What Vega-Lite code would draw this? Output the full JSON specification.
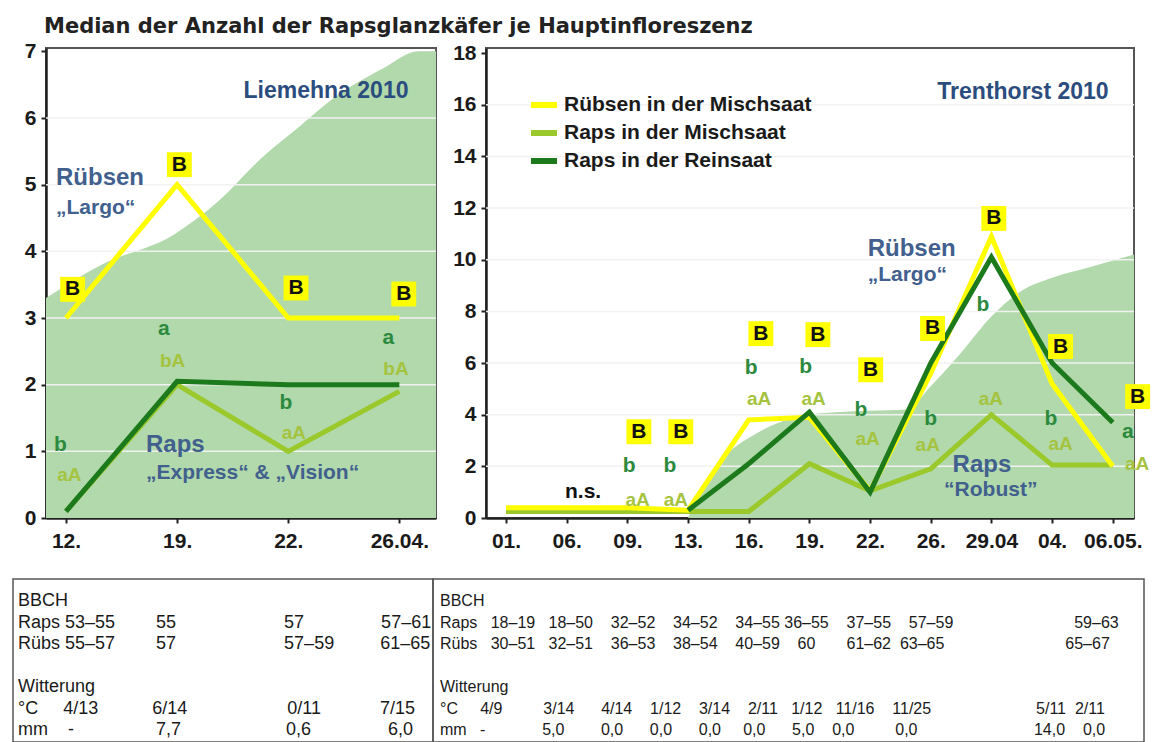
{
  "$schema": "https://vega.github.io/schema/vega-lite/v6.json",
  "padding": {"left": 12, "top": 16, "right": 0, "bottom": 0},
  "background": "white",
  "title": {"text": "Median der Anzahl der Rapsglanzkäfer je Hauptinfloreszenz", "anchor": "start", "frame": "group", "dx": 31, "offset": -15, "baseline": "alphabetic", "font": "DejaVu Sans", "fontSize": 21, "fontWeight": "bold", "color": "#222222"},
  "config": {
    "font": "Liberation Sans",
    "view": {"stroke": "#555555", "strokeWidth": 2},
    "axis": {"labelFont": "Liberation Sans", "labelFontSize": 21, "labelFontWeight": "bold", "labelColor": "#1a1a1a", "domainColor": "#222222", "domainWidth": 2.5, "tickColor": "#222222", "tickWidth": 2, "tickSize": 5, "grid": false, "title": null, "labelOverlap": false, "labelFlush": false}
  },
  "datasets": {
    "left_area": [
      {"t": -0.18, "v": 3.3}, {"t": 0.32, "v": 3.8}, {"t": 0.97, "v": 4.25}, {"t": 1.37, "v": 4.75},
      {"t": 1.76, "v": 5.4}, {"t": 2.12, "v": 5.9}, {"t": 2.41, "v": 6.3}, {"t": 2.86, "v": 6.75},
      {"t": 3.17, "v": 7.0}, {"t": 3.33, "v": 7.0}
    ],
    "left_grid": [{"g": 1}, {"g": 2}, {"g": 3}, {"g": 4}, {"g": 5}, {"g": 6}],
    "left_lines": [
      {"series": "Raps in der Mischsaat", "t": 0, "v": 0.1},
      {"series": "Raps in der Mischsaat", "t": 1, "v": 2.0},
      {"series": "Raps in der Mischsaat", "t": 2, "v": 1.0},
      {"series": "Raps in der Mischsaat", "t": 3, "v": 1.9},
      {"series": "Rübsen in der Mischsaat", "t": 0, "v": 3.0},
      {"series": "Rübsen in der Mischsaat", "t": 1, "v": 5.0},
      {"series": "Rübsen in der Mischsaat", "t": 2, "v": 3.0},
      {"series": "Rübsen in der Mischsaat", "t": 3, "v": 3.0},
      {"series": "Raps in der Reinsaat", "t": 0, "v": 0.1},
      {"series": "Raps in der Reinsaat", "t": 1, "v": 2.05},
      {"series": "Raps in der Reinsaat", "t": 2, "v": 2.0},
      {"series": "Raps in der Reinsaat", "t": 3, "v": 2.0}
    ],
    "left_marks": [
      {"kind": "B", "t": 0.06, "v": 3.43, "label": "B"},
      {"kind": "B", "t": 1.02, "v": 5.3, "label": "B"},
      {"kind": "B", "t": 2.07, "v": 3.45, "label": "B"},
      {"kind": "B", "t": 3.04, "v": 3.36, "label": "B"},
      {"kind": "rein", "t": -0.05, "v": 1.09, "label": "b"},
      {"kind": "rein", "t": 0.88, "v": 2.84, "label": "a"},
      {"kind": "rein", "t": 1.98, "v": 1.72, "label": "b"},
      {"kind": "rein", "t": 2.9, "v": 2.7, "label": "a"},
      {"kind": "misch", "t": 0.03, "v": 0.64, "label": "aA"},
      {"kind": "misch", "t": 0.96, "v": 2.36, "label": "bA"},
      {"kind": "misch", "t": 2.05, "v": 1.28, "label": "aA"},
      {"kind": "misch", "t": 2.97, "v": 2.24, "label": "bA"}
    ],
    "left_annot": [
      {"role": "site", "t": 2.34, "v": 6.4, "text": "Liemehna 2010"},
      {"role": "name", "t": -0.09, "v": 5.1, "text": "Rübsen"},
      {"role": "variety", "t": -0.09, "v": 4.65, "text": "„Largo“"},
      {"role": "name", "t": 0.72, "v": 1.09, "text": "Raps"},
      {"role": "variety", "t": 0.72, "v": 0.67, "text": "„Express“ & „Vision“"}
    ],
    "right_area": [
      {"t": 3.0, "v": 0}, {"t": 3.15, "v": 0.8}, {"t": 3.4, "v": 1.8}, {"t": 3.7, "v": 2.6},
      {"t": 4.0, "v": 3.1}, {"t": 4.5, "v": 3.7}, {"t": 5.0, "v": 4.0}, {"t": 5.5, "v": 4.1},
      {"t": 6.0, "v": 4.15}, {"t": 6.6, "v": 4.2}, {"t": 7.0, "v": 5.1}, {"t": 7.5, "v": 6.4},
      {"t": 8.0, "v": 7.8}, {"t": 8.5, "v": 8.8}, {"t": 9.0, "v": 9.3}, {"t": 9.6, "v": 9.7},
      {"t": 10.35, "v": 10.2}
    ],
    "right_grid": [{"g": 2}, {"g": 4}, {"g": 6}, {"g": 8}, {"g": 10}, {"g": 12}, {"g": 14}, {"g": 16}],
    "right_lines": [
      {"series": "Raps in der Mischsaat", "t": 0, "v": 0.25},
      {"series": "Raps in der Mischsaat", "t": 1, "v": 0.25},
      {"series": "Raps in der Mischsaat", "t": 2, "v": 0.25},
      {"series": "Raps in der Mischsaat", "t": 3, "v": 0.25},
      {"series": "Raps in der Mischsaat", "t": 4, "v": 0.25},
      {"series": "Raps in der Mischsaat", "t": 5, "v": 2.1},
      {"series": "Raps in der Mischsaat", "t": 6, "v": 1.05},
      {"series": "Raps in der Mischsaat", "t": 7, "v": 1.9},
      {"series": "Raps in der Mischsaat", "t": 8, "v": 4.0},
      {"series": "Raps in der Mischsaat", "t": 9, "v": 2.05},
      {"series": "Raps in der Mischsaat", "t": 10, "v": 2.05},
      {"series": "Rübsen in der Mischsaat", "t": 0, "v": 0.4},
      {"series": "Rübsen in der Mischsaat", "t": 1, "v": 0.4},
      {"series": "Rübsen in der Mischsaat", "t": 2, "v": 0.4},
      {"series": "Rübsen in der Mischsaat", "t": 3, "v": 0.3},
      {"series": "Rübsen in der Mischsaat", "t": 4, "v": 3.8},
      {"series": "Rübsen in der Mischsaat", "t": 5, "v": 3.9},
      {"series": "Rübsen in der Mischsaat", "t": 6, "v": 1.05},
      {"series": "Rübsen in der Mischsaat", "t": 7, "v": 5.6},
      {"series": "Rübsen in der Mischsaat", "t": 8, "v": 10.9},
      {"series": "Rübsen in der Mischsaat", "t": 9, "v": 5.2},
      {"series": "Rübsen in der Mischsaat", "t": 10, "v": 2.0},
      {"series": "Raps in der Reinsaat", "t": 3, "v": 0.3},
      {"series": "Raps in der Reinsaat", "t": 4, "v": 2.1},
      {"series": "Raps in der Reinsaat", "t": 5, "v": 4.1},
      {"series": "Raps in der Reinsaat", "t": 6, "v": 1.0},
      {"series": "Raps in der Reinsaat", "t": 7, "v": 6.0},
      {"series": "Raps in der Reinsaat", "t": 8, "v": 10.1},
      {"series": "Raps in der Reinsaat", "t": 9, "v": 6.0},
      {"series": "Raps in der Reinsaat", "t": 10, "v": 3.7}
    ],
    "right_marks": [
      {"kind": "B", "t": 2.19, "v": 3.34, "label": "B"},
      {"kind": "B", "t": 2.88, "v": 3.34, "label": "B"},
      {"kind": "B", "t": 4.2, "v": 7.14, "label": "B"},
      {"kind": "B", "t": 5.14, "v": 7.1, "label": "B"},
      {"kind": "B", "t": 6.01, "v": 5.74, "label": "B"},
      {"kind": "B", "t": 7.03, "v": 7.34, "label": "B"},
      {"kind": "B", "t": 8.04, "v": 11.6, "label": "B"},
      {"kind": "B", "t": 9.14, "v": 6.64, "label": "B"},
      {"kind": "B", "t": 10.41, "v": 4.7, "label": "B"},
      {"kind": "rein", "t": 2.03, "v": 2.0, "label": "b"},
      {"kind": "rein", "t": 2.7, "v": 2.0, "label": "b"},
      {"kind": "rein", "t": 4.04, "v": 5.8, "label": "b"},
      {"kind": "rein", "t": 4.94, "v": 5.86, "label": "b"},
      {"kind": "rein", "t": 5.85, "v": 4.19, "label": "b"},
      {"kind": "rein", "t": 7.0, "v": 3.84, "label": "b"},
      {"kind": "rein", "t": 7.86, "v": 8.26, "label": "b"},
      {"kind": "rein", "t": 8.98, "v": 3.84, "label": "b"},
      {"kind": "rein", "t": 10.25, "v": 3.34, "label": "a"},
      {"kind": "misch", "t": 2.17, "v": 0.7, "label": "aA"},
      {"kind": "misch", "t": 2.8, "v": 0.7, "label": "aA"},
      {"kind": "misch", "t": 4.17, "v": 4.6, "label": "aA"},
      {"kind": "misch", "t": 5.07, "v": 4.62, "label": "aA"},
      {"kind": "misch", "t": 5.96, "v": 3.07, "label": "aA"},
      {"kind": "misch", "t": 6.95, "v": 2.83, "label": "aA"},
      {"kind": "misch", "t": 7.99, "v": 4.62, "label": "aA"},
      {"kind": "misch", "t": 9.14, "v": 2.87, "label": "aA"},
      {"kind": "misch", "t": 10.4, "v": 2.1, "label": "aA"},
      {"kind": "ns", "t": 1.27, "v": 1.0, "label": "n.s."}
    ],
    "right_annot": [
      {"role": "site", "t": 8.52, "v": 16.5, "text": "Trenthorst 2010"},
      {"role": "name", "t": 5.96, "v": 10.4, "text": "Rübsen"},
      {"role": "variety", "t": 5.96, "v": 9.42, "text": "„Largo“"},
      {"role": "name", "t": 7.36, "v": 2.05, "text": "Raps"},
      {"role": "variety", "t": 7.22, "v": 1.09, "text": "“Robust”"}
    ],
    "table_left": [
      {"row": "h1", "text": "BBCH"},
      {"row": "r1", "text": "Raps\u00a053–55\u2003\u2003\u00a055\u2003\u2003\u2003\u2003\u2003\u200357\u2003\u2003\u2003\u2003\u00a057–61"},
      {"row": "r2", "text": "Rübs\u00a055–57\u2003\u2003\u00a057\u2003\u2003\u2003\u2003\u2003\u200357–59\u2003\u2003\u00a0\u00a061–65"},
      {"row": "h2", "text": "Witterung"},
      {"row": "r3", "text": "°C\u00a0\u00a0\u00a0\u00a0\u00a04/13\u2003\u2003\u20036/14\u2003\u2003\u2003\u2003\u2003\u00a0\u00a00/11\u2003\u2003\u2003\u00a07/15"},
      {"row": "r4", "text": "mm\u00a0\u00a0\u00a0\u00a0-\u2003\u2003\u2003\u2003\u00a0\u00a07,7\u2003\u2003\u2003\u2003\u2003\u00a0\u00a0\u00a00,6\u2003\u2003\u2003\u2003\u00a06,0"}
    ],
    "table_right": [
      {"row": "h1", "text": "BBCH"},
      {"row": "r1", "text": "Raps\u00a0\u00a0\u00a018–19\u00a0\u00a0\u00a018–50\u00a0\u00a0\u00a0\u00a032–52\u00a0\u00a0\u00a0\u00a034–52\u00a0\u00a0\u00a0\u00a034–55\u00a036–55\u00a0\u00a0\u00a0\u00a037–55\u00a0\u00a0\u00a0\u00a057–59\u2003\u2003\u2003\u2003\u2003\u2003\u2003\u00a0\u00a059–63"},
      {"row": "r2", "text": "Rübs\u00a0\u00a0\u00a030–51\u00a0\u00a0\u00a032–51\u00a0\u00a0\u00a0\u00a036–53\u00a0\u00a0\u00a0\u00a038–54\u00a0\u00a0\u00a0\u00a040–59\u00a0\u00a0\u00a0\u00a060\u00a0\u00a0\u00a0\u00a0\u00a0\u00a0\u00a061–62\u00a0\u00a063–65\u2003\u2003\u2003\u2003\u2003\u2003\u2003\u00a0\u00a065–67"},
      {"row": "h2", "text": "Witterung"},
      {"row": "r3", "text": "°C\u00a0\u00a0\u00a0\u00a0\u00a04/9\u2003\u2003\u00a0\u00a03/14\u00a0\u00a0\u00a0\u00a0\u00a0\u00a04/14\u00a0\u00a0\u00a0\u00a01/12\u00a0\u00a0\u00a0\u00a03/14\u00a0\u00a0\u00a0\u00a02/11\u00a0\u00a0\u00a01/12\u00a0\u00a0\u00a011/16\u00a0\u00a0\u00a0\u00a011/25\u2003\u2003\u2003\u2003\u2003\u2003\u00a0\u00a05/11\u00a0\u00a02/11"},
      {"row": "r4", "text": "mm\u00a0\u00a0\u00a0-\u2003\u2003\u2003\u00a0\u00a05,0\u2003\u2003\u00a00,0\u00a0\u00a0\u00a0\u00a0\u00a0\u00a00,0\u00a0\u00a0\u00a0\u00a0\u00a0\u00a00,0\u00a0\u00a0\u00a0\u00a0\u00a00,0\u00a0\u00a0\u00a0\u00a0\u00a0\u00a05,0\u00a0\u00a0\u00a0\u00a00,0\u2003\u2003\u00a0\u00a00,0\u2003\u2003\u2003\u2003\u2003\u2003\u2003\u00a014,0\u00a0\u00a0\u00a0\u00a00,0"}
    ]
  },
  "bounds": "full",
  "spacing": 26,
  "vconcat": [
    {
      "bounds": "flush",
      "spacing": 32,
      "hconcat": [
        {"width": 1, "height": 470, "view": {"stroke": null}, "data": {"values": [{"s": 0}]}, "mark": {"type": "point", "opacity": 0, "size": 1}, "encoding": {}},
        {
          "bounds": "flush",
          "spacing": 50,
          "resolve": {"scale": {"stroke": "independent"}},
          "hconcat": [
            {
              "width": 390,
              "height": 470,
              "layer": [
                {
                  "data": {"name": "left_area"},
                  "mark": {"type": "area", "color": "#b1d9ab", "interpolate": "monotone"},
                  "encoding": {
                    "x": {"field": "t", "type": "quantitative", "scale": {"domain": [-0.18, 3.33], "nice": false, "zero": false}, "axis": {"values": [0, 1, 2, 3], "labelExpr": "['12.','19.','22.','26.04.'][datum.value]", "labelPadding": 7}},
                    "y": {"field": "v", "type": "quantitative", "scale": {"domain": [0, 7.05], "nice": false}, "axis": {"values": [0, 1, 2, 3, 4, 5, 6, 7], "format": "d", "labelPadding": 5}}
                  }
                },
                {
                  "data": {"name": "left_grid"},
                  "mark": {"type": "rule", "color": "#f2f2f2", "strokeWidth": 1.5},
                  "encoding": {"y": {"field": "g", "type": "quantitative"}}
                },
                {
                  "data": {"name": "left_lines"},
                  "mark": {"type": "line", "strokeWidth": 5},
                  "encoding": {
                    "x": {"field": "t", "type": "quantitative"},
                    "y": {"field": "v", "type": "quantitative"},
                    "stroke": {"field": "series", "type": "nominal", "scale": {"domain": ["Rübsen in der Mischsaat", "Raps in der Mischsaat", "Raps in der Reinsaat"], "range": ["#ffff00", "#9bc82a", "#1c7a1c"]}, "legend": null}
                  }
                },
                {
                  "data": {"name": "left_marks"},
                  "transform": [{"filter": "datum.kind === 'B'"}],
                  "mark": {"type": "square", "size": 620, "color": "#ffff00", "opacity": 1},
                  "encoding": {"x": {"field": "t", "type": "quantitative"}, "y": {"field": "v", "type": "quantitative"}}
                },
                {
                  "data": {"name": "left_marks"},
                  "transform": [{"filter": "datum.kind === 'B'"}],
                  "mark": {"type": "text", "fontSize": 21, "fontWeight": "bold", "color": "#111111", "baseline": "middle"},
                  "encoding": {"x": {"field": "t", "type": "quantitative"}, "y": {"field": "v", "type": "quantitative"}, "text": {"field": "label"}}
                },
                {
                  "data": {"name": "left_marks"},
                  "transform": [{"filter": "datum.kind === 'rein'"}],
                  "mark": {"type": "text", "fontSize": 21, "fontWeight": "bold", "color": "#2b8a3e", "baseline": "middle"},
                  "encoding": {"x": {"field": "t", "type": "quantitative"}, "y": {"field": "v", "type": "quantitative"}, "text": {"field": "label"}}
                },
                {
                  "data": {"name": "left_marks"},
                  "transform": [{"filter": "datum.kind === 'misch'"}],
                  "mark": {"type": "text", "fontSize": 19, "fontWeight": "bold", "color": "#a5c33f", "baseline": "middle"},
                  "encoding": {"x": {"field": "t", "type": "quantitative"}, "y": {"field": "v", "type": "quantitative"}, "text": {"field": "label"}}
                },
                {
                  "data": {"name": "left_annot"},
                  "transform": [{"filter": "datum.role === 'site'"}],
                  "mark": {"type": "text", "fontSize": 23, "fontWeight": "bold", "color": "#2b4c7e", "baseline": "middle", "align": "center"},
                  "encoding": {"x": {"field": "t", "type": "quantitative"}, "y": {"field": "v", "type": "quantitative"}, "text": {"field": "text"}}
                },
                {
                  "data": {"name": "left_annot"},
                  "transform": [{"filter": "datum.role === 'name'"}],
                  "mark": {"type": "text", "fontSize": 24, "fontWeight": "bold", "color": "#41608e", "baseline": "middle", "align": "left"},
                  "encoding": {"x": {"field": "t", "type": "quantitative"}, "y": {"field": "v", "type": "quantitative"}, "text": {"field": "text"}}
                },
                {
                  "data": {"name": "left_annot"},
                  "transform": [{"filter": "datum.role === 'variety'"}],
                  "mark": {"type": "text", "fontSize": 21, "fontWeight": "bold", "color": "#41608e", "baseline": "middle", "align": "left"},
                  "encoding": {"x": {"field": "t", "type": "quantitative"}, "y": {"field": "v", "type": "quantitative"}, "text": {"field": "text"}}
                }
              ]
            },
            {
              "width": 648,
              "height": 470,
              "layer": [
                {
                  "data": {"name": "right_area"},
                  "mark": {"type": "area", "color": "#b1d9ab", "interpolate": "monotone"},
                  "encoding": {
                    "x": {"field": "t", "type": "quantitative", "scale": {"domain": [-0.33, 10.35], "nice": false, "zero": false}, "axis": {"values": [0, 1, 2, 3, 4, 5, 6, 7, 8, 9, 10], "labelExpr": "['01.','06.','09.','13.','16.','19.','22.','26.','29.04','04.','06.05.'][datum.value]", "labelPadding": 7}},
                    "y": {"field": "v", "type": "quantitative", "scale": {"domain": [0, 18.2], "nice": false}, "axis": {"values": [0, 2, 4, 6, 8, 10, 12, 14, 16, 18], "format": "d", "labelPadding": 5}}
                  }
                },
                {
                  "data": {"name": "right_grid"},
                  "mark": {"type": "rule", "color": "#f2f2f2", "strokeWidth": 1.5},
                  "encoding": {"y": {"field": "g", "type": "quantitative"}}
                },
                {
                  "data": {"name": "right_lines"},
                  "mark": {"type": "line", "strokeWidth": 5},
                  "encoding": {
                    "x": {"field": "t", "type": "quantitative"},
                    "y": {"field": "v", "type": "quantitative"},
                    "stroke": {"field": "series", "type": "nominal", "scale": {"domain": ["Rübsen in der Mischsaat", "Raps in der Mischsaat", "Raps in der Reinsaat"], "range": ["#ffff00", "#9bc82a", "#1c7a1c"]},
                      "legend": {"orient": "none", "legendX": 42, "legendY": 41, "title": null, "symbolType": "stroke", "symbolStrokeWidth": 6, "symbolSize": 676, "labelFontSize": 21, "labelFontWeight": "bold", "labelColor": "#1a1a1a", "labelFont": "Liberation Sans", "rowPadding": 0, "labelOffset": 4, "padding": 0, "labelLimit": 400}}
                  }
                },
                {
                  "data": {"name": "right_marks"},
                  "transform": [{"filter": "datum.kind === 'B'"}],
                  "mark": {"type": "square", "size": 620, "color": "#ffff00", "opacity": 1},
                  "encoding": {"x": {"field": "t", "type": "quantitative"}, "y": {"field": "v", "type": "quantitative"}}
                },
                {
                  "data": {"name": "right_marks"},
                  "transform": [{"filter": "datum.kind === 'B' || datum.kind === 'ns'"}],
                  "mark": {"type": "text", "fontSize": 21, "fontWeight": "bold", "color": "#111111", "baseline": "middle"},
                  "encoding": {"x": {"field": "t", "type": "quantitative"}, "y": {"field": "v", "type": "quantitative"}, "text": {"field": "label"}}
                },
                {
                  "data": {"name": "right_marks"},
                  "transform": [{"filter": "datum.kind === 'rein'"}],
                  "mark": {"type": "text", "fontSize": 21, "fontWeight": "bold", "color": "#2b8a3e", "baseline": "middle"},
                  "encoding": {"x": {"field": "t", "type": "quantitative"}, "y": {"field": "v", "type": "quantitative"}, "text": {"field": "label"}}
                },
                {
                  "data": {"name": "right_marks"},
                  "transform": [{"filter": "datum.kind === 'misch'"}],
                  "mark": {"type": "text", "fontSize": 19, "fontWeight": "bold", "color": "#a5c33f", "baseline": "middle"},
                  "encoding": {"x": {"field": "t", "type": "quantitative"}, "y": {"field": "v", "type": "quantitative"}, "text": {"field": "label"}}
                },
                {
                  "data": {"name": "right_annot"},
                  "transform": [{"filter": "datum.role === 'site'"}],
                  "mark": {"type": "text", "fontSize": 23, "fontWeight": "bold", "color": "#2b4c7e", "baseline": "middle", "align": "center"},
                  "encoding": {"x": {"field": "t", "type": "quantitative"}, "y": {"field": "v", "type": "quantitative"}, "text": {"field": "text"}}
                },
                {
                  "data": {"name": "right_annot"},
                  "transform": [{"filter": "datum.role === 'name'"}],
                  "mark": {"type": "text", "fontSize": 24, "fontWeight": "bold", "color": "#41608e", "baseline": "middle", "align": "left"},
                  "encoding": {"x": {"field": "t", "type": "quantitative"}, "y": {"field": "v", "type": "quantitative"}, "text": {"field": "text"}}
                },
                {
                  "data": {"name": "right_annot"},
                  "transform": [{"filter": "datum.role === 'variety'"}],
                  "mark": {"type": "text", "fontSize": 21, "fontWeight": "bold", "color": "#41608e", "baseline": "middle", "align": "left"},
                  "encoding": {"x": {"field": "t", "type": "quantitative"}, "y": {"field": "v", "type": "quantitative"}, "text": {"field": "text"}}
                }
              ]
            }
          ]
        }
      ]
    },
    {
      "bounds": "flush",
      "spacing": 0,
      "hconcat": [
        {
          "width": 420,
          "height": 163,
          "view": {"stroke": "#555555", "strokeWidth": 1.5},
          "data": {"name": "table_left"},
          "mark": {"type": "text", "align": "left", "baseline": "middle", "dx": 5, "fontSize": 18, "font": "Liberation Sans", "color": "#1a1a1a"},
          "encoding": {
            "x": {"datum": 0, "type": "quantitative", "scale": {"domain": [0, 1]}, "axis": null},
            "y": {"field": "row", "type": "ordinal", "scale": {"type": "point", "domain": ["h1", "r1", "r2", "gap", "h2", "r3", "r4"], "padding": 0.79, "align": 0.65}, "axis": null},
            "text": {"field": "text"}
          }
        },
        {
          "width": 711,
          "height": 163,
          "view": {"stroke": "#555555", "strokeWidth": 1.5},
          "data": {"name": "table_right"},
          "mark": {"type": "text", "align": "left", "baseline": "middle", "dx": 7, "fontSize": 16, "font": "Liberation Sans", "color": "#1a1a1a"},
          "encoding": {
            "x": {"datum": 0, "type": "quantitative", "scale": {"domain": [0, 1]}, "axis": null},
            "y": {"field": "row", "type": "ordinal", "scale": {"type": "point", "domain": ["h1", "r1", "r2", "gap", "h2", "r3", "r4"], "padding": 0.79, "align": 0.65}, "axis": null},
            "text": {"field": "text"}
          }
        }
      ]
    }
  ]
}
